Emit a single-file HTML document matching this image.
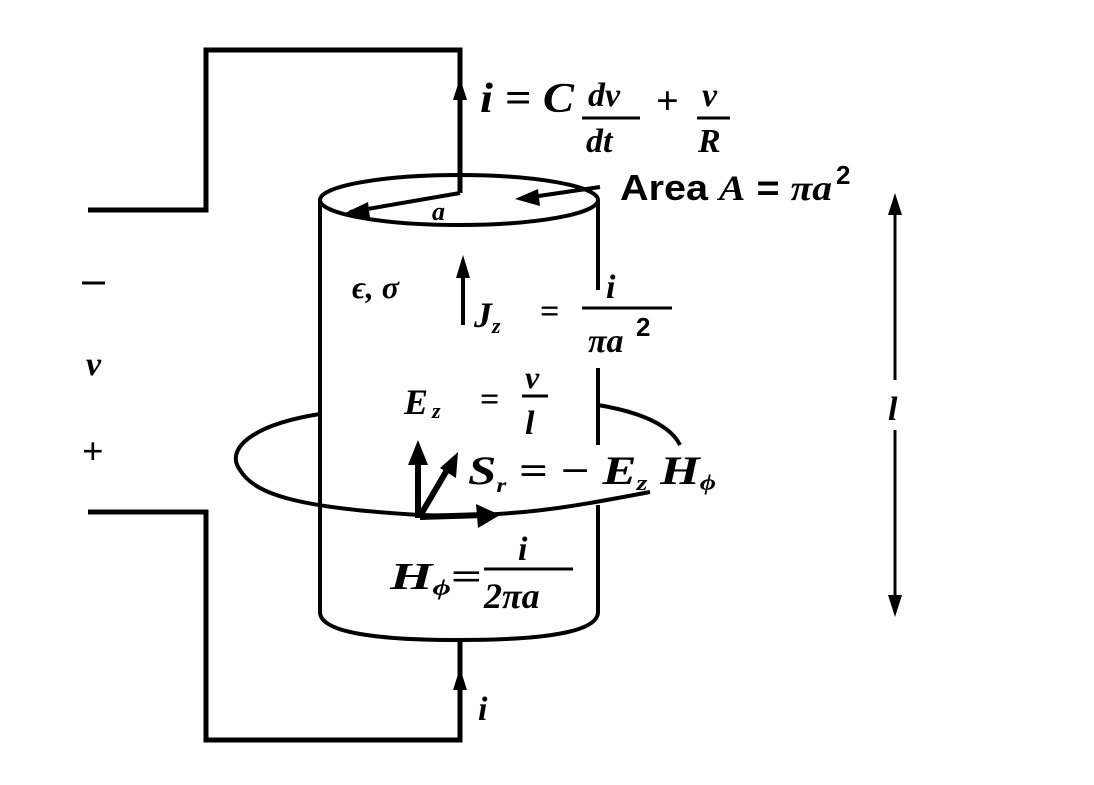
<!DOCTYPE html>
<html><head><style>
html,body{margin:0;padding:0;background:#fff;}
svg{display:block}
text{font-family:"Liberation Serif",serif;font-weight:bold;font-style:italic;fill:#000}
.s{font-family:"Liberation Sans",sans-serif;font-style:normal}
</style></head><body>
<svg width="1094" height="785" viewBox="0 0 1094 785" xmlns="http://www.w3.org/2000/svg">
<g fill="none" stroke="#000" stroke-width="5" stroke-linejoin="miter">
<polyline points="88,210 206,210 206,50 460,50 460,193"/>
<line x1="460" y1="193" x2="350" y2="212" stroke-width="4"/>
<polyline points="88,512 206,512 206,740 460,740 460,640"/>
<ellipse cx="459" cy="200" rx="139" ry="25" stroke-width="4"/>
<line x1="320" y1="200" x2="320" y2="612" stroke-width="4"/>
<line x1="598" y1="200" x2="598" y2="290" stroke-width="4"/>
<line x1="598" y1="368" x2="598" y2="445" stroke-width="4"/>
<line x1="598" y1="505" x2="598" y2="612" stroke-width="4"/>
<path d="M320,612 Q320,640 459,640 Q598,640 598,612" stroke-width="4"/>
<path d="M320,414 C250,425 225,450 240,470 C255,495 300,508 420,515 C520,518 580,505 650,492" stroke-width="4"/>
<path d="M598,405 C640,412 670,425 680,445" stroke-width="4"/>
<line x1="600" y1="187" x2="525" y2="198" stroke-width="4"/>
<line x1="895" y1="200" x2="895" y2="380" stroke-width="3"/>
<line x1="895" y1="430" x2="895" y2="610" stroke-width="3"/>
<line x1="463" y1="262" x2="463" y2="325" stroke-width="4"/>
<line x1="418" y1="518" x2="418" y2="458" stroke-width="6"/>
<line x1="420" y1="516" x2="450" y2="465" stroke-width="6"/>
<line x1="420" y1="517" x2="485" y2="515" stroke-width="6"/>
<line x1="582" y1="118" x2="640" y2="118" stroke-width="3"/>
<line x1="697" y1="118" x2="730" y2="118" stroke-width="3"/>
<line x1="582" y1="308" x2="672" y2="308" stroke-width="3"/>
<line x1="522" y1="396" x2="548" y2="396" stroke-width="3"/>
<line x1="484" y1="569" x2="573" y2="569" stroke-width="3"/>
<line x1="82" y1="283" x2="105" y2="283" stroke-width="3"/>
</g>
<g fill="#000">
<polygon points="460,78 453,100 467,100"/>
<polygon points="460,668 453,690 467,690"/>
<polygon points="345,213 368,202 370,218"/>
<polygon points="515,199 538,189 540,206"/>
<polygon points="895,193 888,215 902,215"/>
<polygon points="895,617 888,595 902,595"/>
<polygon points="463,255 456,278 470,278"/>
<polygon points="418,440 408,465 428,465"/>
<polygon points="458,452 440,468 456,478"/>
<polygon points="500,515 476,504 478,528"/>
</g>
<text x="480" y="112" font-size="42" textLength="94" lengthAdjust="spacingAndGlyphs">i = C</text>
<text x="588" y="106" font-size="34">dv</text>
<text x="586" y="152" font-size="34">dt</text>
<text x="656" y="114" font-size="40" style="font-style:normal">+</text>
<text x="702" y="106" font-size="34">v</text>
<text x="698" y="152" font-size="34">R</text>
<text x="620" y="200" font-size="36" class="s" textLength="212" lengthAdjust="spacingAndGlyphs">Area <tspan font-style="italic" font-family="Liberation Serif">A</tspan> = <tspan font-style="italic" font-family="Liberation Serif">πa</tspan></text>
<text x="836" y="184" font-size="26" class="s">2</text>
<text x="432" y="220" font-size="26">a</text>
<text x="352" y="298" font-size="32">ϵ, σ</text>
<text x="474" y="327" font-size="36">J<tspan font-size="22" dy="6">z</tspan></text>
<text x="540" y="322" font-size="34" style="font-style:normal">=</text>
<text x="606" y="298" font-size="34">i</text>
<text x="588" y="352" font-size="34">πa</text>
<text x="636" y="336" font-size="26" class="s">2</text>
<text x="404" y="414" font-size="36">E<tspan font-size="22" dx="4" dy="4">z</tspan></text>
<text x="480" y="410" font-size="34" style="font-style:normal">=</text>
<text x="525" y="388" font-size="32">v</text>
<text x="525" y="434" font-size="34">l</text>
<text x="468" y="484" font-size="40" textLength="248" lengthAdjust="spacingAndGlyphs">S<tspan font-size="20" dy="8">r</tspan><tspan dy="-8" style="font-style:normal"> = − </tspan>E<tspan font-size="22" dy="6">z</tspan><tspan dy="-6"> H</tspan><tspan font-size="22" dy="6">ϕ</tspan></text>
<text x="390" y="589" font-size="38" textLength="92" lengthAdjust="spacingAndGlyphs">H<tspan font-size="22" dy="6">ϕ</tspan><tspan dy="-6" style="font-style:normal">=</tspan></text>
<text x="518" y="560" font-size="34">i</text>
<text x="484" y="608" font-size="36">2πa</text>
<text x="86" y="375" font-size="34">v</text>
<text x="82" y="464" font-size="38" style="font-style:normal">+</text>
<text x="888" y="420" font-size="34">l</text>
<text x="478" y="720" font-size="34">i</text>
</svg>
</body></html>
